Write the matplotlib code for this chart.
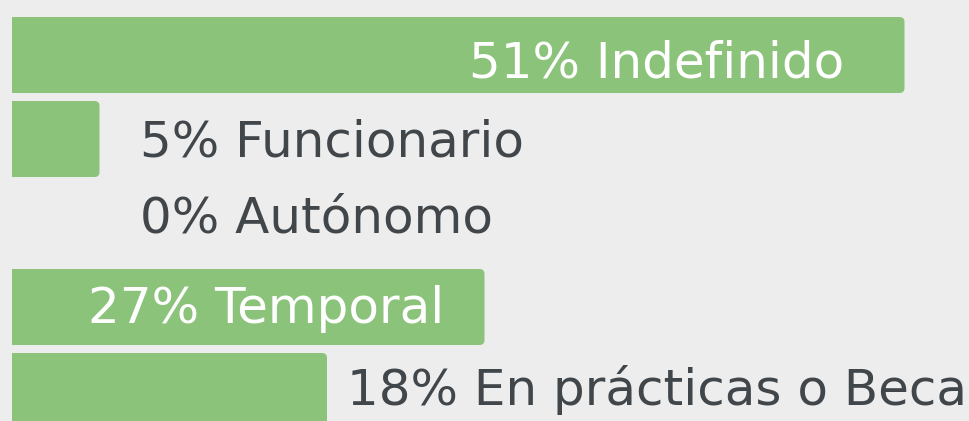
import matplotlib
matplotlib.use("Agg")
import matplotlib.pyplot as plt
from matplotlib.patches import FancyBboxPatch, Rectangle

categories = ["Indefinido", "Funcionario", "Autónomo", "Temporal", "En prácticas o Beca"]
values = [51, 5, 0, 27, 18]

BG = "#ededed"
BAR = "#8cc37a"
DARK = "#41464b"

W, H, DPI = 970, 421, 100
fig = plt.figure(figsize=(W / DPI, H / DPI), dpi=DPI, facecolor=BG)
ax = fig.add_axes([0, 0, 1, 1])
ax.set_facecolor(BG)
ax.axis("off")

px_per_unit_x = 17.5
x0_px = 12
pitch = 84
first_center = 55
ax.set_xlim(-x0_px / px_per_unit_x, (W - x0_px) / px_per_unit_x)
ax.set_ylim((H - first_center) / pitch, -first_center / pitch)

bar_h = 76 / pitch
r_x = 5 / px_per_unit_x
r_y = 5 / pitch
inside_pad_px = [60, 40, 40, 40, 40]
baseline_off_px = [22, 17, 9, 16, 14]
font = ["DejaVu Sans"]
fs = 36

clip = Rectangle((0, -10), 1000, 100, transform=ax.transData)
for i, (cat, v) in enumerate(zip(categories, values)):
    if v > 0:
        start = -1.0
        p = FancyBboxPatch((start, i - bar_h / 2), v - start, bar_h,
                           boxstyle=f"round,pad=0,rounding_size={r_x}",
                           mutation_aspect=r_y / r_x,
                           facecolor=BAR, edgecolor="none")
        ax.add_patch(p)
        p.set_clip_path(clip)
    label = f"{v}% {cat}"
    y = i + baseline_off_px[i] / pitch
    if v >= 20:
        ax.text(v - inside_pad_px[i] / px_per_unit_x, y, label, ha="right", va="baseline",
                color="white", fontsize=fs, family=font)
    else:
        x = max(v + 20 / px_per_unit_x, (140 - x0_px) / px_per_unit_x)
        ax.text(x, y, label, ha="left", va="baseline",
                color=DARK, fontsize=fs, family=font)

fig.savefig("out.png", dpi=DPI, facecolor=BG)
